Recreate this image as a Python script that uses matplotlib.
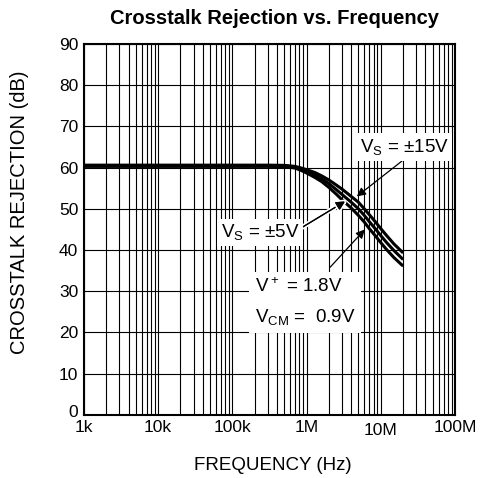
import numpy as np
import matplotlib
matplotlib.use("Agg")
import matplotlib.pyplot as plt
from matplotlib.ticker import LogLocator, NullFormatter, FixedLocator, FixedFormatter
from matplotlib import patheffects as pe
from matplotlib.transforms import ScaledTranslation

plt.rcParams['font.family'] = ['Liberation Sans', 'DejaVu Sans']
plt.rcParams['mathtext.default'] = 'regular'

# crosstalk rejection curves (Hz, dB)
freq = [1e3, 3e5, 5e5, 7e5, 8.5e5, 1e6, 1.3e6, 1.6e6, 2e6, 2.5e6, 3e6,
        4e6, 5e6, 6e6, 7e6, 8.5e6, 1e7, 1.2e7, 1.5e7, 2e7]
rej_15v = [60.6, 60.6, 60.55, 60.3, 59.9, 59.5, 58.8, 58.0, 57.0, 55.8, 54.8,
           53.0, 51.6, 50.0, 48.6, 46.8, 45.2, 43.5, 41.5, 39.3]
rej_5v = [60.45, 60.45, 60.4, 60.1, 59.6, 59.1, 58.2, 57.3, 56.1, 54.7, 53.5,
          51.6, 50.0, 48.4, 46.9, 45.1, 43.5, 41.8, 39.9, 37.7]
rej_1v8 = [60.3, 60.3, 60.25, 59.9, 59.3, 58.7, 57.6, 56.6, 55.2, 53.6, 52.2,
           50.2, 48.4, 46.8, 45.2, 43.4, 41.8, 40.1, 38.2, 36.1]

xticks = [1e3, 1e4, 1e5, 1e6, 1e7, 1e8]
xtick_labels = ['1k', '10k', '100k', '1M', '10M', '100M']
yticks = list(range(0, 91, 10))

fig = plt.figure(figsize=(4.82, 4.78), dpi=100)
ax = fig.add_axes([0.174, 0.132, 0.770, 0.776])

ax.set_xscale('log')
ax.set_xlim(1e3, 1e8)
ax.set_ylim(0, 90)
ax.xaxis.set_major_locator(FixedLocator(xticks))
ax.xaxis.set_major_formatter(FixedFormatter(xtick_labels))
ax.xaxis.set_minor_locator(LogLocator(base=10, subs=np.arange(2, 10)))
ax.xaxis.set_minor_formatter(NullFormatter())
ax.set_yticks(yticks)

ax.grid(which='both', axis='x', color='black', lw=0.8)
ax.grid(which='major', axis='y', color='black', lw=0.8)
ax.set_axisbelow(True)
ax.tick_params(which='both', length=0, labelsize=12.5)
ax.tick_params(axis='x', pad=4)
ax.tick_params(axis='y', pad=4)
for s in ax.spines.values():
    s.set_linewidth(1.5)

# small nudges so the corner labels don't collide
for lab in ax.get_xticklabels():
    if lab.get_text() == '10M':
        lab.set_transform(lab.get_transform() + ScaledTranslation(0, -3 / 100, fig.dpi_scale_trans))
ylab0 = ax.get_yticklabels()[0]
ylab0.set_transform(ylab0.get_transform() + ScaledTranslation(0, 4 / 100, fig.dpi_scale_trans))

for y in (rej_15v, rej_5v, rej_1v8):
    ax.plot(freq, y, color='black', lw=2.2, zorder=3, solid_capstyle='butt')

arrow_kw = dict(arrowstyle='-|>', color='black', lw=0.9, mutation_scale=13,
                shrinkA=0, shrinkB=0)
box = dict(boxstyle='square,pad=0.2', fc='white', ec='none')

ax.annotate('', xy=(4.75e6, 53.0), xytext=(1.93e7, 61.6),
            arrowprops=arrow_kw, zorder=4)
ax.text(2.06e7, 65.0, 'V$_S$ = ±15V', ha='center', va='center',
        fontsize=13.5, bbox=box, zorder=5)

a5 = ax.annotate('', xy=(3.3e6, 51.8), xytext=(8.7e5, 45.5),
                 arrowprops=arrow_kw, zorder=4)
a5.arrow_patch.set_path_effects([pe.withStroke(linewidth=3.5, foreground='white'), pe.Normal()])
ax.text(2.36e5, 44.3, 'V$_S$ = ±5V', ha='center', va='center',
        fontsize=13.5, bbox=box, zorder=5)

ax.annotate('', xy=(6.1e6, 45.0), xytext=(2.07e6, 35.8),
            arrowprops=arrow_kw, zorder=4)
ax.text(2.0e5, 27.4, 'V$^+$ = 1.8V\nV$_{CM}$ =  0.9V', ha='left', va='center',
        fontsize=13.5, linespacing=1.75,
        bbox=dict(boxstyle='square,pad=0.3', fc='white', ec='none'), zorder=5)

ax.set_xlabel('FREQUENCY (Hz)', fontsize=13.5)
ax.set_ylabel('CROSSTALK REJECTION (dB)', fontsize=14.5)
ax.xaxis.set_label_coords(0.509, -0.113)
ax.yaxis.set_label_coords(-0.148, 0.547)

fig.text(275 / 482, 1 - 18 / 478, 'Crosstalk Rejection vs. Frequency',
         ha='center', va='center', fontsize=14.5, fontweight='bold')

fig.savefig('out.png', dpi=100)
